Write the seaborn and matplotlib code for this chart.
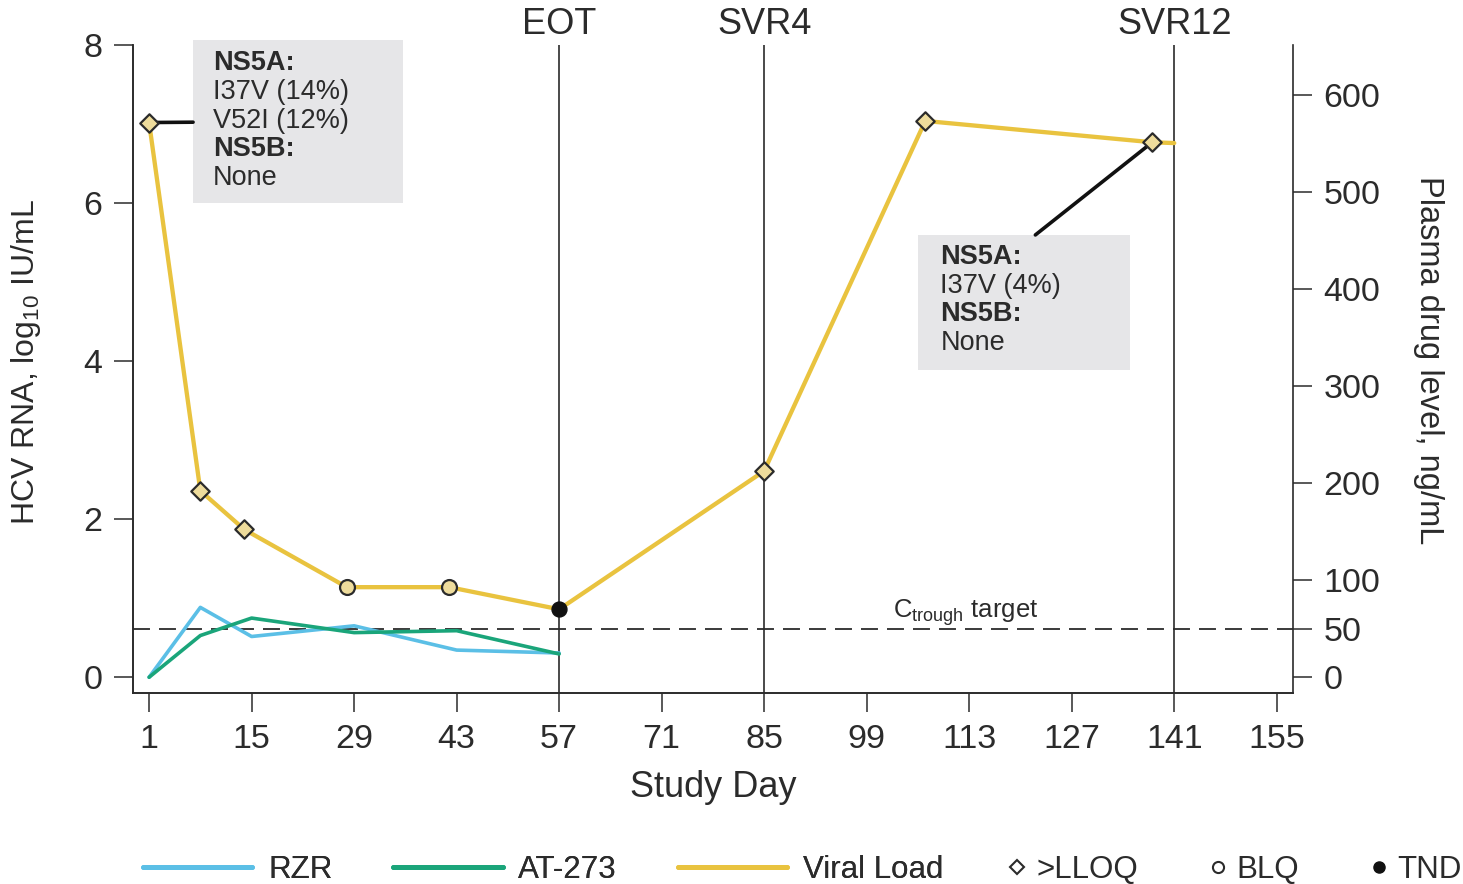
import matplotlib
matplotlib.use("Agg")
import matplotlib.pyplot as plt
import matplotlib.transforms as mtransforms
from matplotlib.lines import Line2D
from matplotlib.patches import Rectangle
import seaborn as sns
import pandas as pd

# ---------------- data ----------------
vl_days = [1, 8, 14, 28, 42, 57, 85, 107, 138, 141]
vl_values = [7.02, 2.36, 1.87, 1.14, 1.14, 0.86, 2.61, 7.04, 6.77, 6.76]
vl_status = [">LLOQ", ">LLOQ", ">LLOQ", "BLQ", "BLQ", "TND", ">LLOQ", ">LLOQ", ">LLOQ", None]

pk_days = [1, 8, 15, 29, 43, 57]
rzr_values = [0, 72, 42, 53, 28, 25]
at273_values = [0, 43, 61, 46, 48, 24]

x_ticks = [1, 15, 29, 43, 57, 71, 85, 99, 113, 127, 141, 155]
left_ticks = [0, 2, 4, 6, 8]
right_ticks = [0, 50, 100, 200, 300, 400, 500, 600]
milestone_days = [57, 85, 141]
milestone_labels = ["EOT", "SVR4", "SVR12"]
ctrough_target = 50

box1_lines = [("NS5A:", True), ("I37V (14%)", False), ("V52I (12%)", False),
              ("NS5B:", True), ("None", False)]
box2_lines = [("NS5A:", True), ("I37V (4%)", False), ("NS5B:", True), ("None", False)]

c_rzr = "#5bbfe6"
c_at = "#1aa57a"
c_vl = "#e9c33f"
c_ink = "#2b2b2b"

# ---------------- style ----------------
sns.set_style("ticks")
plt.rcParams["font.family"] = ["Liberation Sans", "DejaVu Sans"]
plt.rcParams["mathtext.fontset"] = "custom"
plt.rcParams["mathtext.rm"] = "Liberation Sans"
plt.rcParams["mathtext.it"] = "Liberation Sans:italic"
plt.rcParams["mathtext.bf"] = "Liberation Sans:bold"

vl_df = pd.DataFrame({"day": vl_days, "value": vl_values, "status": vl_status})
pk_df = pd.DataFrame({"day": pk_days, "RZR": rzr_values, "AT-273": at273_values})

fig = plt.figure(figsize=(14.63, 8.84), dpi=100)
ax = fig.add_axes([0.0909, 0.216, 0.7928, 0.733])
ax2 = ax.twinx()

ax.set_xlim(-1.2, 157.2)
ax.set_ylim(-0.2, 8.0)
scale = 81.44
ax2.set_ylim(-0.2 * scale, 8.0 * scale)

# milestones
for d in milestone_days:
    ax.axvline(d, color=c_ink, lw=1.2, zorder=1)
blend = mtransforms.blended_transform_factory(ax.transData, ax.transAxes)
for d, lab in zip(milestone_days, milestone_labels):
    ax.text(d, 1.017, lab, transform=blend, ha="center", va="baseline",
            fontsize=26, color=c_ink)

# viral load line + markers
sns.lineplot(data=vl_df, x="day", y="value", ax=ax, color=c_vl, lw=3.1,
             zorder=3, legend=False)
m_lloq = vl_df[vl_df.status == ">LLOQ"]
m_blq = vl_df[vl_df.status == "BLQ"]
m_tnd = vl_df[vl_df.status == "TND"]
sns.scatterplot(data=m_lloq, x="day", y="value", ax=ax, marker="D", s=88,
                color="#eedc9c", edgecolor=c_ink, linewidth=1.6, zorder=5, legend=False)
sns.scatterplot(data=m_blq, x="day", y="value", ax=ax, marker="o", s=115,
                color="#eedc9c", edgecolor=c_ink, linewidth=1.6, zorder=5, legend=False)
sns.scatterplot(data=m_tnd, x="day", y="value", ax=ax, marker="o", s=115,
                color="#111111", edgecolor="#111111", linewidth=1, zorder=5, legend=False)

# PK lines
sns.lineplot(data=pk_df, x="day", y="RZR", ax=ax2, color=c_rzr, lw=2.6, legend=False)
sns.lineplot(data=pk_df, x="day", y="AT-273", ax=ax2, color=c_at, lw=2.6, legend=False)
ax2.axhline(ctrough_target, color=c_ink, lw=1.3, ls=(0, (9.4, 5)), zorder=1)
ax2.annotate(r"C$_{\mathrm{trough}}$ target", xy=(0.655, ctrough_target),
             xycoords=mtransforms.blended_transform_factory(ax2.transAxes, ax2.transData),
             xytext=(0, 8), textcoords="offset points", ha="left", va="baseline",
             fontsize=18.5, color=c_ink)

# annotation boxes
ax.add_patch(Rectangle((0.0518, 0.756), 0.1812, 0.2517, transform=ax.transAxes,
                       facecolor="#e6e6e8", edgecolor="none", zorder=4, clip_on=False))
ax.add_patch(Rectangle((0.677, 0.498), 0.183, 0.209, transform=ax.transAxes,
                       facecolor="#e6e6e8", edgecolor="none", zorder=4, clip_on=False))
for i, (t, b) in enumerate(box1_lines):
    ax.text(0.069, 0.972 - i * 0.0442, t, transform=ax.transAxes, ha="left",
            va="center", fontsize=19.5, fontweight="bold" if b else "normal",
            color=c_ink, zorder=6)
for i, (t, b) in enumerate(box2_lines):
    ax.text(0.696, 0.673 - i * 0.0442, t, transform=ax.transAxes, ha="left",
            va="center", fontsize=19.5, fontweight="bold" if b else "normal",
            color=c_ink, zorder=6)
ax.annotate("", xy=(vl_days[0], vl_values[0]), xytext=(0.0518, 0.881),
            textcoords="axes fraction",
            arrowprops=dict(arrowstyle="-", lw=2.6, color="#111111",
                            shrinkA=0, shrinkB=0), zorder=4)
ax.annotate("", xy=(vl_days[8], vl_values[8]), xytext=(0.778, 0.707),
            textcoords="axes fraction",
            arrowprops=dict(arrowstyle="-", lw=2.6, color="#111111",
                            shrinkA=0, shrinkB=0), zorder=4)

# axes styling
ax.set_xticks(x_ticks)
ax.set_yticks(left_ticks)
ax2.set_yticks(right_ticks)
for a in (ax, ax2):
    a.tick_params(axis="both", length=14, width=1.1, labelsize=24.5, pad=8,
                  color=c_ink, labelcolor=c_ink)
    a.spines["top"].set_visible(False)
    for s in ("left", "right", "bottom"):
        a.spines[s].set_color(c_ink)
        a.spines[s].set_linewidth(1.2)
ax.spines["right"].set_visible(False)

ax.set_xlabel("Study Day", fontsize=26, color=c_ink)
ax.xaxis.set_label_coords(0.5, -0.118)
ax.set_ylabel(r"HCV RNA, log$_{10}$ IU/mL", fontsize=23, color=c_ink)
ax.yaxis.set_label_coords(-0.078, 0.511)
ax2.set_ylabel("Plasma drug level, ng/mL", fontsize=23.5, color=c_ink,
               rotation=-90, va="bottom")
ax2.yaxis.set_label_coords(1.104, 0.514)

# legends
line_handles = [Line2D([], [], color=c_rzr, lw=3.5),
                Line2D([], [], color=c_at, lw=3.5),
                Line2D([], [], color=c_vl, lw=3.5)]
leg1 = fig.legend(line_handles, ["RZR", "AT-273", "Viral Load"], ncol=3,
                  loc="center left", bbox_to_anchor=(0.0977, 0.016), frameon=False,
                  fontsize=22.5, handlelength=3.5, handletextpad=0.5,
                  columnspacing=1.95, borderpad=0, borderaxespad=0, labelcolor=c_ink)
mark_handles = [Line2D([], [], ls="none", marker="D", ms=7, mfc="white",
                       mec=c_ink, mew=1.5),
                Line2D([], [], ls="none", marker="o", ms=8, mfc="white",
                       mec=c_ink, mew=1.5),
                Line2D([], [], ls="none", marker="o", ms=8, mfc="#111111",
                       mec="#111111")]
leg2 = fig.legend(mark_handles, [">LLOQ", "BLQ", "TND"], ncol=3,
                  loc="center left", bbox_to_anchor=(0.689, 0.016), frameon=False,
                  fontsize=22.5, handlelength=0.6, handletextpad=0.3,
                  columnspacing=2.25, borderpad=0, borderaxespad=0, labelcolor=c_ink)
fig.add_artist(leg1)

fig.savefig("out.png", dpi=100)
